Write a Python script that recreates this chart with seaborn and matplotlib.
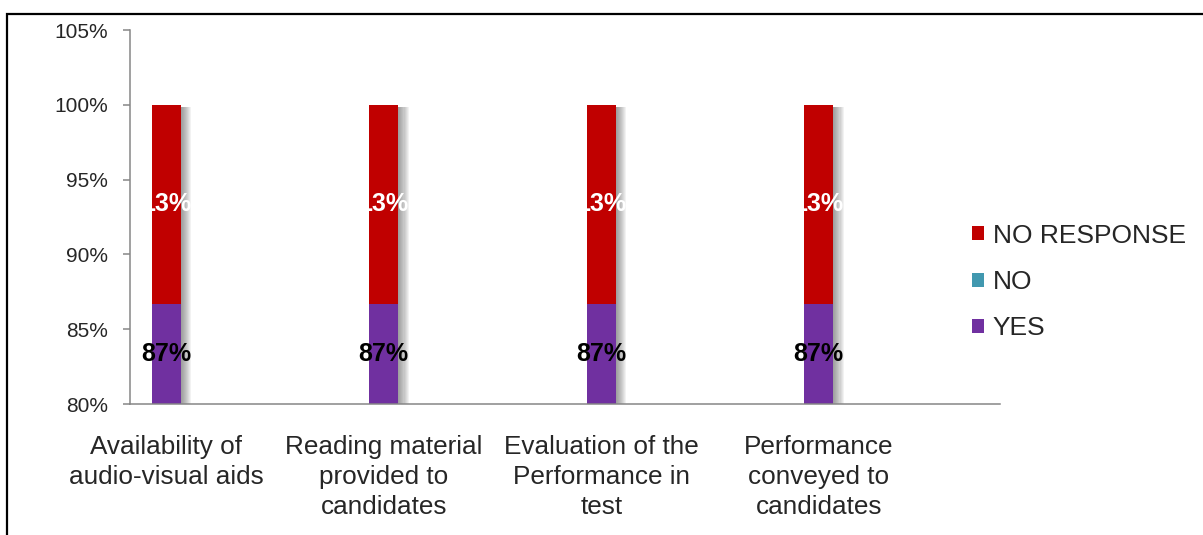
import textwrap

import matplotlib
matplotlib.use("Agg")
import matplotlib.pyplot as plt
import matplotlib.patheffects as pe
from matplotlib.patches import Patch, Rectangle
from matplotlib.ticker import PercentFormatter, FixedLocator
import pandas as pd
import seaborn as sns

# Survey questions and the share of answers per response
categories = [
    "Availability of audio-visual aids",
    "Reading material provided to candidates",
    "Evaluation of the Performance in test",
    "Performance conveyed to candidates",
]
yes = [0.867, 0.867, 0.867, 0.867]
no = [0.0, 0.0, 0.0, 0.0]
no_response = [0.133, 0.133, 0.133, 0.133]

series_names = ["YES", "NO", "NO RESPONSE"]
series_colors = ["#7030A0", "#4198AF", "#C00000"]
y_ticks = [0.80, 0.85, 0.90, 0.95, 1.00, 1.05]

# The category axis holds 12 slots; each question sits in every third slot
n_slots = 12
slot_step = 3

sns.set_style("white")
plt.rcParams["font.family"] = ["Liberation Sans", "DejaVu Sans"]

AXIS_GREY = "#868686"

slot_order = [" " * (i + 1) for i in range(n_slots)]
cat_slots = [slot_order[i * slot_step] for i in range(len(categories))]

df = pd.DataFrame({
    "slot": cat_slots,
    "yes": yes,
    "no": no,
    "no_response": no_response,
})
df["top_yes"] = df["yes"]
df["top_no"] = df["yes"] + df["no"]
df["top_all"] = df["top_no"] + df["no_response"]

fig = plt.figure(figsize=(12.03, 5.35), dpi=100)
ax = fig.add_axes([130 / 1203, 131 / 535, 870 / 1203, 374 / 535])

bar_kw = dict(data=df, x="slot", order=slot_order, width=0.40,
              saturation=1, linewidth=0, ax=ax)

# Stacked columns: draw cumulative totals from the top segment down
sns.barplot(y="top_all", color=series_colors[2], **bar_kw)
n_first = len(ax.patches)
sns.barplot(y="top_no", color=series_colors[1], **bar_kw)
sns.barplot(y="top_yes", color=series_colors[0], **bar_kw)

# Soft drop shadow on the right side of each column
shadow = [pe.SimplePatchShadow(offset=(k * 0.75, -1.5), shadow_rgbFace="#5a5a5a", alpha=0.08)
          for k in range(1, 11)]
for p in ax.patches[:n_first]:
    p.set_path_effects(shadow + [pe.Normal()])

ylo, yhi = y_ticks[0], y_ticks[-1]
ax.set_ylim(ylo, yhi)
ax.set_xlim(-0.5, n_slots - 0.5)
ax.yaxis.set_major_locator(FixedLocator(y_ticks))
ax.yaxis.set_major_formatter(PercentFormatter(1.0, decimals=0))

# Category labels centred in their slots; tick marks on slot boundaries
ax.set_xticks(range(n_slots))
labels = [""] * n_slots
for i, c in enumerate(categories):
    labels[i * slot_step] = textwrap.fill(c, 17)
ax.set_xticklabels(labels, fontsize=18.8, linespacing=1.32)
ax.set_xlabel("")
ax.set_ylabel("")
ax.set_xticks([x - 0.5 for x in range(n_slots + 1)], minor=True)
ax.tick_params(axis="x", which="major", length=0, pad=22)
ax.tick_params(axis="x", which="minor", length=5.5, width=1.1, color=AXIS_GREY, direction="out")
ax.tick_params(axis="y", which="major", length=5, width=1.1, color=AXIS_GREY,
               direction="out", labelsize=15, pad=11, left=True)

for side in ("top", "right"):
    ax.spines[side].set_visible(False)
for side in ("left", "bottom"):
    ax.spines[side].set_color(AXIS_GREY)
    ax.spines[side].set_linewidth(1.1)

# Value labels in the middle of the visible part of each segment
for i in range(len(categories)):
    x = i * slot_step
    segments = [
        (0.0, yes[i], yes[i], "black"),
        (yes[i], yes[i] + no[i], no[i], "black"),
        (yes[i] + no[i], yes[i] + no[i] + no_response[i], no_response[i], "white"),
    ]
    for bottom, top, val, col in segments:
        if val <= 0:
            continue
        yc = (max(bottom, ylo) + min(top, yhi)) / 2
        ax.text(x, yc, f"{val:.0%}", ha="center", va="center",
                fontsize=18, fontweight="bold", color=col)

handles = [Patch(facecolor=c, edgecolor="none") for c in series_colors][::-1]
fig.legend(handles, series_names[::-1], loc="center left",
           bbox_to_anchor=(972 / 1203, 1 - 282 / 535), frameon=False,
           fontsize=19, handlelength=0.45, handleheight=0.45,
           handletextpad=0.33, labelspacing=0.85, borderpad=0, borderaxespad=0)

# Chart-area frame, open on the right and bottom
top_y = 1 - 14 / 535
fig.add_artist(Rectangle((7 / 1203, -0.05), 1.1, top_y + 0.05,
                         transform=fig.transFigure, fill=False,
                         edgecolor="black", linewidth=1.6, clip_on=False))

fig.savefig("out.png", dpi=100, facecolor="white")
